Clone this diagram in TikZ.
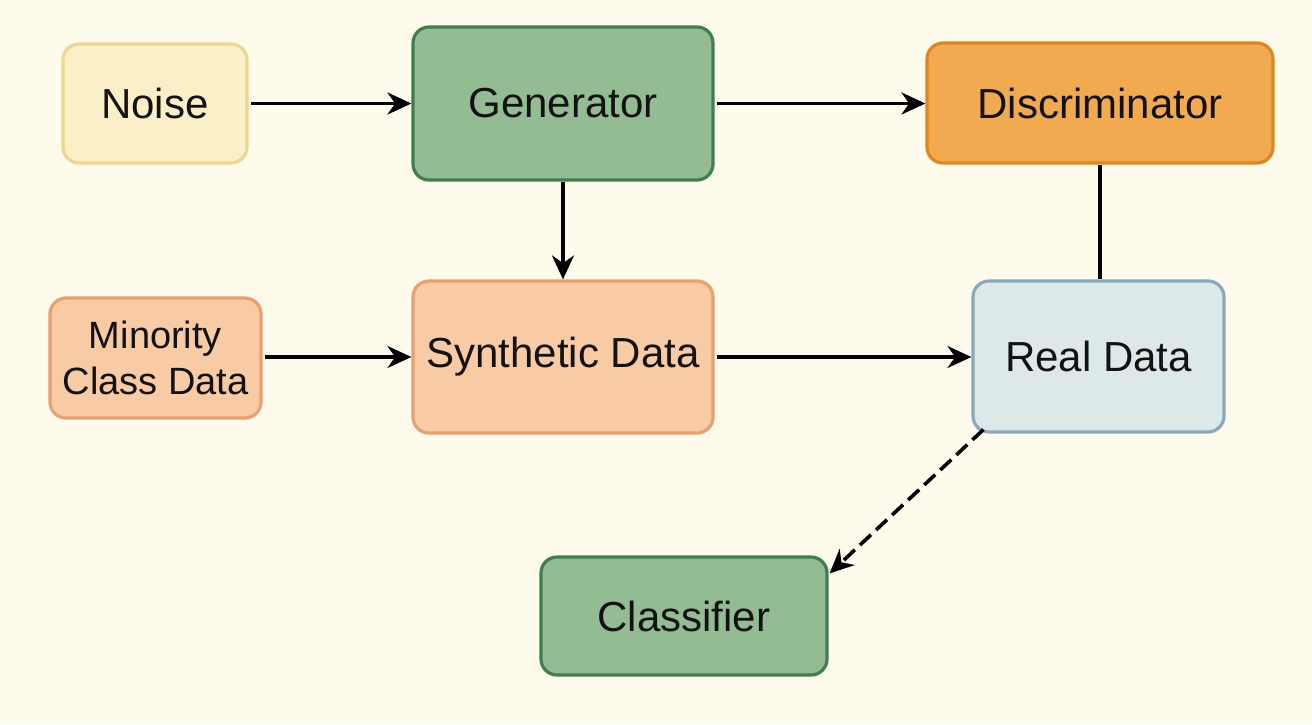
\documentclass[tikz,border=0pt]{standalone}
\usepackage{fontspec}
\setmainfont{Liberation Sans}
\usetikzlibrary{arrows.meta,calc}
\definecolor{bg}{HTML}{FEFAEC}
\definecolor{noisefill}{HTML}{FBEFC8}
\definecolor{noisedraw}{HTML}{EED690}
\definecolor{greenfill}{HTML}{93BC93}
\definecolor{greendraw}{HTML}{3F7F4F}
\definecolor{discfill}{HTML}{F2AA50}
\definecolor{discdraw}{HTML}{E0861E}
\definecolor{peachfill}{HTML}{F8CBA5}
\definecolor{peachdraw}{HTML}{E8A070}
\definecolor{realfill}{HTML}{DCE9E8}
\definecolor{realdraw}{HTML}{8AAABB}
\tikzset{
  box/.style={rounded corners=16pt, line width=3.2pt, align=center, inner sep=0pt,
    font=\fontsize{42}{47}\selectfont, text=black!93},
  arr/.style={line width=3.6pt, -{Stealth[length=24pt,width=22pt]}},
  link/.style={line width=3.6pt},
  dasharr/.style={line width=3.6pt, dash pattern=on 15pt off 7pt, -{Stealth[length=24pt,width=22pt]}}
}
\begin{document}
\begin{tikzpicture}[x=1pt,y=-1pt]
\fill[bg] (0,0) rectangle (1312,724);
\useasboundingbox (0,0) rectangle (1312,724);
\node[box, fill=noisefill, draw=noisedraw, minimum width=184pt, minimum height=119pt] (noise) at (155,103.5) {Noise};
\node[box, fill=greenfill, draw=greendraw, minimum width=300pt, minimum height=153pt] (gen) at (563,103.5) {Generator};
\node[box, fill=discfill, draw=discdraw, minimum width=346pt, minimum height=120pt] (disc) at (1100,103) {Discriminator};
\node[box, fill=peachfill, draw=peachdraw, minimum width=211pt, minimum height=120pt, font=\fontsize{38}{46}\selectfont] (min) at (155.5,358) {Minority\\Class Data};
\node[box, fill=peachfill, draw=peachdraw, minimum width=300pt, minimum height=152pt] (syn) at (563,357) {Synthetic Data};
\node[box, fill=realfill, draw=realdraw, minimum width=251pt, minimum height=151pt] (real) at (1098.5,356.5) {Real Data};
\node[box, fill=greenfill, draw=greendraw, minimum width=286pt, minimum height=118pt] (cls) at (684,616) {Classifier};
\coordinate (dstart) at ($(real.south west)+(12,-4)$);
\coordinate (dend) at ($(cls.north east)+(1,18)$);
\draw[arr, shorten <=2pt] (noise.east) -- (gen.west);
\draw[arr, shorten <=2pt] (gen.east) -- (disc.west |- gen.east);
\draw[arr] (gen.south) -- (syn.north);
\draw[arr, shorten <=2pt] (min.east |- syn.west) -- (syn.west);
\draw[arr, shorten <=2pt] (syn.east) -- (real.west |- syn.east);
\draw[link] (disc.south) -- (disc.south |- real.north);
\draw[dasharr] (dstart) -- (dend);
\end{tikzpicture}
\end{document}
